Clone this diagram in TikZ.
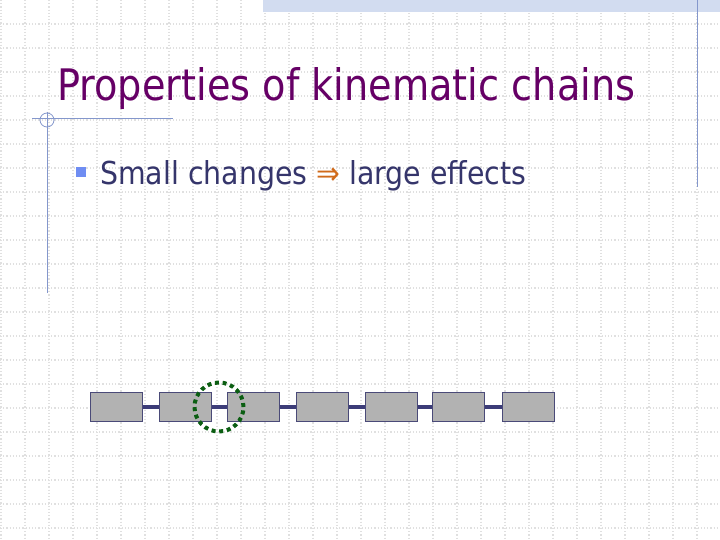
\documentclass[tikz,border=0pt]{standalone}
\usepackage{fontspec}
\setmainfont{DejaVu Sans}
\usepackage{graphicx}
\definecolor{titlepurple}{HTML}{660066}
\definecolor{bodyblue}{HTML}{35356B}
\definecolor{bulletblue}{HTML}{6F8DF2}
\definecolor{arroworange}{HTML}{D06A1A}
\definecolor{framelines}{HTML}{8497CC}
\definecolor{gridgray}{HTML}{E0E0E0}
\definecolor{bandblue}{HTML}{D2DCF0}
\definecolor{boxgray}{HTML}{B2B2B2}
\definecolor{boxedge}{HTML}{4A4A78}
\definecolor{linkblue}{HTML}{3C3C78}
\definecolor{jointgreen}{HTML}{0B5E12}
\tikzset{
  gridline/.style={gridgray, line width=1.2pt, dotted},
  frameline/.style={framelines, line width=1pt},
  chainbox/.style={draw=boxedge, fill=boxgray, line width=1pt, minimum width=52pt, minimum height=29pt, inner sep=0pt},
  chainlink/.style={linkblue, line width=4pt},
  jointring/.style={circle, draw=jointgreen, line width=4pt, dash pattern=on 4pt off 3.7pt, minimum size=49pt, inner sep=0pt}
}
\begin{document}
\begin{tikzpicture}[x=1pt,y=-1pt]
\useasboundingbox (0,0) rectangle (720,540);
\fill[white] (0,0) rectangle (720,540);
% grid
\foreach \gx in {1,25,...,720} \draw[gridline] (\gx,0) -- (\gx,540);
\foreach \gy in {24,48,...,540} \draw[gridline] (0,\gy) -- (720,\gy);
% top band
\fill[bandblue] (263,0) rectangle (720,12);
% frame lines
\draw[frameline] (697,0) -- (697,187);
\draw[frameline] (32,119) -- (173,119);
\draw[frameline] (47,112) -- (47,293);
\draw[framelines, line width=0.8pt] (47,120) circle (7);
% title
\node[anchor=base west, inner sep=0pt, text=titlepurple] (title) at (57,101)
  {\resizebox{578pt}{33pt}{Properties of kinematic chains}};
% bullet
\fill[bulletblue] (76,167) rectangle (86,177);
\node[anchor=base west, inner sep=0pt, text=bodyblue] (bullet) at (100,184.5)
  {\resizebox{426pt}{24pt}{Small changes \textcolor{arroworange}{⇒} large effects}};
% chain
\node[chainbox] (b1) at (116,406.5) {};
\node[chainbox] (b2) at (185,406.5) {};
\node[chainbox] (b3) at (253.5,406.5) {};
\node[chainbox] (b4) at (322,406.5) {};
\node[chainbox] (b5) at (391,406.5) {};
\node[chainbox] (b6) at (458.5,406.5) {};
\node[chainbox] (b7) at (528,406.5) {};
\foreach \a/\b in {b1/b2,b2/b3,b3/b4,b4/b5,b5/b6,b6/b7}
  \draw[chainlink] (\a.east) -- (\b.west);
\node[jointring] (joint) at (219,407) {};
\end{tikzpicture}
\end{document}
